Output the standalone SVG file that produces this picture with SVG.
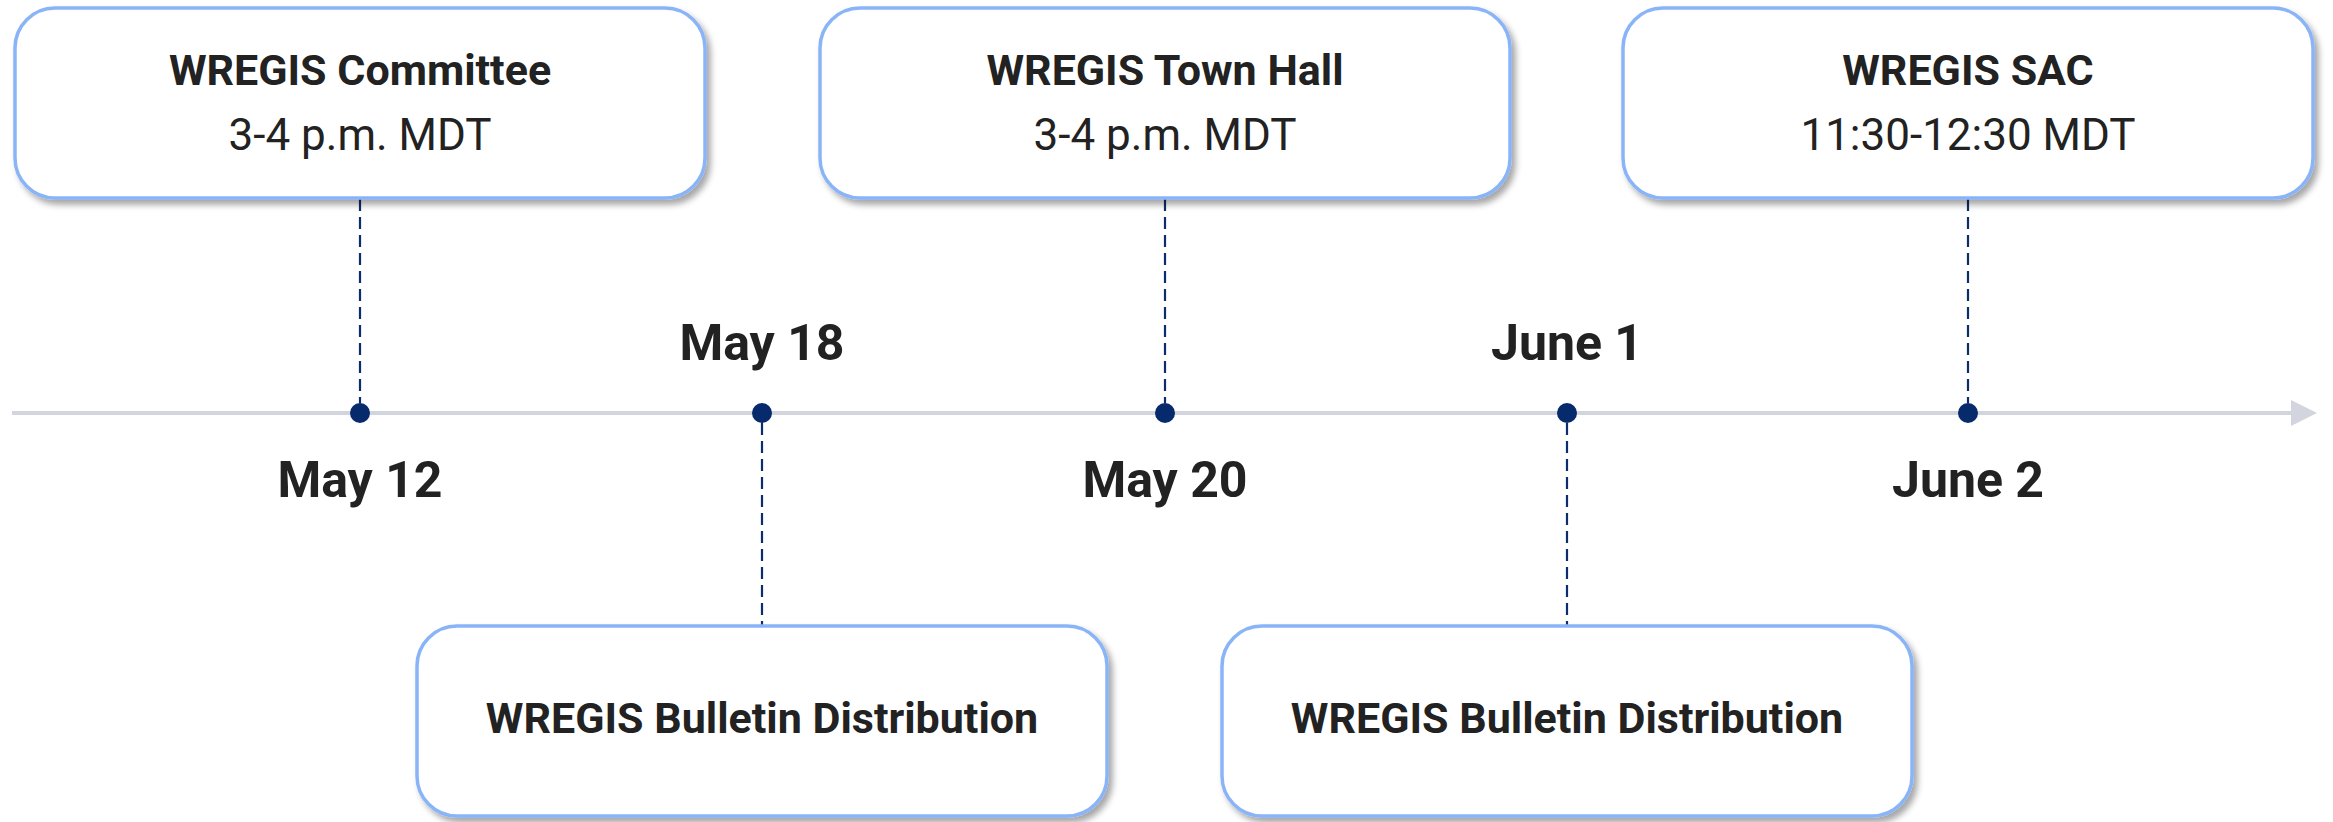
<svg xmlns="http://www.w3.org/2000/svg" width="2333" height="822" viewBox="0 0 2333 822">
<defs>
<filter id="sh" x="-10%" y="-20%" width="130%" height="150%">
<feDropShadow dx="4" dy="5" stdDeviation="3" flood-color="#000" flood-opacity="0.35"/>
</filter>
<marker id="arr" viewBox="0 0 10 10" refX="0" refY="5" markerWidth="26" markerHeight="26" markerUnits="userSpaceOnUse" orient="auto">
<path d="M0,0 L10,5 L0,10 Z" fill="#d2d4de"/>
</marker>
<style>
.box{fill:#fff;stroke:#8ab4f8;stroke-width:3.5;filter:url(#sh)}
.t1{font-family:Roboto,"Liberation Sans",sans-serif;font-weight:700;font-size:43px;fill:#222;text-anchor:middle}
.t2{font-family:Roboto,"Liberation Sans",sans-serif;font-weight:400;font-size:44px;fill:#222;text-anchor:middle}
.date{font-family:Roboto,"Liberation Sans",sans-serif;font-weight:700;font-size:50px;fill:#222;text-anchor:middle}
.dash{stroke:#0b2d6e;stroke-width:2.2;stroke-dasharray:12 6;fill:none}
.dot{fill:#062a6b}
</style>
</defs>
<rect width="2333" height="822" fill="#fff"/>
<g id="connectors">
<line x1="12" y1="413" x2="2291" y2="413" stroke="#d2d4de" stroke-width="4" marker-end="url(#arr)"/>
<line class="dash" x1="360" y1="199" x2="360" y2="403"/>
<line class="dash" x1="1165" y1="199" x2="1165" y2="403"/>
<line class="dash" x1="1968" y1="199" x2="1968" y2="403"/>
<line class="dash" x1="762" y1="423" x2="762" y2="625"/>
<line class="dash" x1="1567" y1="423" x2="1567" y2="625"/>
</g>
<g id="dots">
<circle class="dot" cx="360" cy="413" r="10"/>
<circle class="dot" cx="762" cy="413" r="10"/>
<circle class="dot" cx="1165" cy="413" r="10"/>
<circle class="dot" cx="1567" cy="413" r="10"/>
<circle class="dot" cx="1968" cy="413" r="10"/>
</g>
<g id="labels">
<text class="date" x="360" y="497">May 12</text>
<text class="date" x="762" y="360">May 18</text>
<text class="date" x="1165" y="497">May 20</text>
<text class="date" x="1567" y="360">June 1</text>
<text class="date" x="1968" y="497">June 2</text>
</g>
<g id="committee">
<rect class="box" x="15" y="8" width="690" height="190" rx="40"/>
<text class="t1" x="360" y="85">WREGIS Committee</text>
<text class="t2" x="360" y="150">3-4 p.m. MDT</text>
</g>
<g id="townhall">
<rect class="box" x="820" y="8" width="690" height="190" rx="40"/>
<text class="t1" x="1165" y="85">WREGIS Town Hall</text>
<text class="t2" x="1165" y="150">3-4 p.m. MDT</text>
</g>
<g id="sac">
<rect class="box" x="1623" y="8" width="690" height="190" rx="40"/>
<text class="t1" x="1968" y="85">WREGIS SAC</text>
<text class="t2" x="1968" y="150">11:30-12:30 MDT</text>
</g>
<g id="bulletin1">
<rect class="box" x="417" y="626" width="690" height="190" rx="40"/>
<text class="t1" x="762" y="733">WREGIS Bulletin Distribution</text>
</g>
<g id="bulletin2">
<rect class="box" x="1222" y="626" width="690" height="190" rx="40"/>
<text class="t1" x="1567" y="733">WREGIS Bulletin Distribution</text>
</g>
</svg>
